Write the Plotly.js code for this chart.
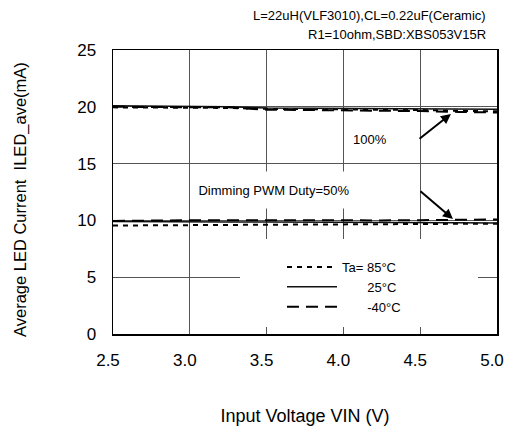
<!DOCTYPE html>
<html>
<head>
<meta charset="utf-8">
<script src="https://cdn.plot.ly/plotly-3.0.1.min.js"></script>
<style>html,body{margin:0;padding:0;background:#fff;}#chart{width:505px;height:426px;}</style>
</head>
<body>
<div id="chart"></div>
<script>
// ---- data ----
const vin = [2.5, 2.75, 3.0, 3.25, 3.5, 3.75, 4.0, 4.25, 4.5, 4.75, 5.0];
// 100% duty
const full85 = [19.95, 19.95, 19.93, 19.9, 19.82, 19.8, 19.78, 19.75, 19.72, 19.65, 19.6];
const full25 = [20.1, 20.08, 20.05, 20.0, 19.9, 19.88, 19.86, 19.85, 19.83, 19.8, 19.78];
const fullM40 = [20.0, 20.0, 19.98, 19.95, 19.75, 19.72, 19.7, 19.68, 19.62, 19.55, 19.5];
// 50% duty
const half85 = [9.55, 9.57, 9.6, 9.62, 9.65, 9.66, 9.67, 9.68, 9.69, 9.7, 9.7];
const half25 = [9.9, 9.87, 9.85, 9.85, 9.85, 9.85, 9.85, 9.84, 9.82, 9.8, 9.78];
const halfM40 = [9.95, 10.0, 10.02, 10.02, 10.0, 10.0, 10.0, 10.0, 10.02, 10.05, 10.08];
const seriesNames = ['Ta= 85\u00b0C', '\u00a0\u00a0\u00a0\u00a0\u00a0\u00a0\u00a025\u00b0C', '\u00a0\u00a0\u00a0\u00a0\u00a0\u00a0\u00a0-40\u00b0C'];
const xTicks = [2.5, 3.0, 3.5, 4.0, 4.5, 5.0];
const xTickText = ['2.5', '3.0', '3.5', '4.0', '4.5', '5.0'];
const yTicks = [0, 5, 10, 15, 20, 25];

const FONT = 'Liberation Sans, Arial, sans-serif';
const styles = [
  {color: '#000', width: 2, dash: '5px,5px'},
  {color: '#111', width: 1.5, dash: 'solid'},
  {color: '#000', width: 2, dash: '12px,7px'}
];
const fullSets = [full85, full25, fullM40];
const halfSets = [half85, half25, halfM40];
const traces = [];
fullSets.forEach((ys, i) => traces.push({
  x: vin, y: ys, type: 'scatter', mode: 'lines', name: seriesNames[i],
  legendgroup: 'g' + i, showlegend: true, line: styles[i]
}));
halfSets.forEach((ys, i) => traces.push({
  x: vin, y: ys, type: 'scatter', mode: 'lines', name: seriesNames[i],
  legendgroup: 'g' + i, showlegend: false, line: styles[i]
}));

const layout = {
  width: 505, height: 426,
  margin: {l: 113, r: 8, t: 50, b: 92},
  paper_bgcolor: '#fff', plot_bgcolor: '#fff',
  font: {family: FONT, color: '#000', size: 17},
  showlegend: true,
  legend: {
    x: (282 - 113) / 384, xanchor: 'left', y: (334 - 252) / 284, yanchor: 'top',
    bgcolor: 'rgba(0,0,0,0)', borderwidth: 0,
    font: {family: FONT, size: 13, color: '#000'},
    itemwidth: 50, tracegroupgap: 0
  },
  xaxis: {
    range: [2.5, 5.0], tickvals: xTicks, ticktext: xTickText,
    showline: true, linecolor: '#000', linewidth: 1.5, mirror: true,
    showgrid: true, gridcolor: '#555', gridwidth: 1,
    ticks: 'inside', ticklen: 6, tickcolor: '#555',
    zeroline: false, ticklabelstandoff: 10, ticklabelshift: -5, ticklabeloverflow: 'allow',
    tickfont: {family: FONT, size: 17},
    title: {text: 'Input Voltage VIN (V)', font: {family: FONT, size: 18}, standoff: 40}
  },
  yaxis: {
    range: [0, 25], tickvals: yTicks,
    showline: true, linecolor: '#000', linewidth: 1.5, mirror: true,
    showgrid: true, gridcolor: '#555', gridwidth: 1,
    ticks: '', zeroline: false, ticklabelstandoff: 12,
    tickfont: {family: FONT, size: 17}
  },
  shapes: [
    {type: 'rect', xref: 'paper', yref: 'paper', layer: 'above',
     x0: (240 - 113) / 384, x1: (478 - 113) / 384, y0: (334 - 327) / 284, y1: (334 - 239) / 284,
     fillcolor: '#fff', line: {width: 0}}
  ],
  annotations: [
    {xref: 'paper', yref: 'paper', x: (20 - 113) / 384, y: (334 - 200) / 284, xanchor: 'center', yanchor: 'middle',
     text: 'Average LED Current  ILED_ave(mA)', textangle: -90, showarrow: false, font: {family: FONT, size: 16.5}},
    {xref: 'paper', yref: 'paper', x: (488 - 113) / 384, y: (334 - 16) / 284, xanchor: 'right', yanchor: 'middle',
     text: 'L=22uH(VLF3010),CL=0.22uF(Ceramic)', showarrow: false, font: {family: FONT, size: 13}},
    {xref: 'paper', yref: 'paper', x: (488 - 113) / 384, y: (334 - 35) / 284, xanchor: 'right', yanchor: 'middle',
     text: 'R1=10ohm,SBD:XBS053V15R', showarrow: false, font: {family: FONT, size: 13}},
    {xref: 'x', yref: 'y', x: 4.17, y: 17.08, text: '100%', showarrow: false,
     font: {family: FONT, size: 13}},
    {xref: 'x', yref: 'y', x: 3.548, y: (334 - 190) / 11.36, text: 'Dimming PWM Duty=50%', showarrow: false,
     font: {family: FONT, size: 13}, bgcolor: '#fff', width: 158, height: 34},
    {xref: 'x', yref: 'y', axref: 'x', ayref: 'y', x: 4.70, y: 19.37, ax: 4.486, ay: 17.08,
     text: '', showarrow: true, arrowhead: 2, arrowsize: 1, arrowwidth: 2, arrowcolor: '#000'},
    {xref: 'x', yref: 'y', axref: 'x', ayref: 'y', x: 4.713, y: 10.12, ax: 4.492, ay: 12.68,
     text: '', showarrow: true, arrowhead: 2, arrowsize: 1, arrowwidth: 2, arrowcolor: '#000'}
  ]
};

Plotly.newPlot('chart', traces, layout, {staticPlot: true, displayModeBar: false});
</script>
</body>
</html>
